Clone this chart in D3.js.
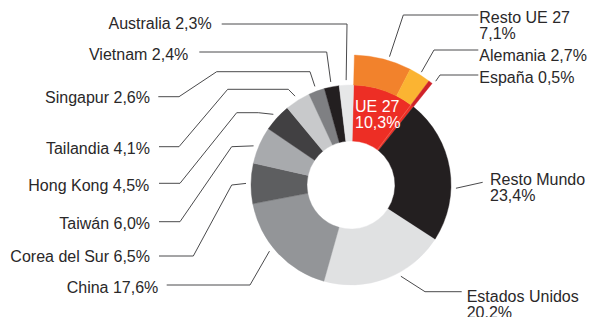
<!DOCTYPE html>
<html>
<head>
<meta charset="utf-8">
<script src="https://cdn.jsdelivr.net/npm/d3@7/dist/d3.min.js"></script>
<style>
  html, body { margin: 0; padding: 0; background: #fff; }
  svg { display: block; }
  text { font-family: "Liberation Sans", Arial, Helvetica, sans-serif; font-size: 16px; }
</style>
</head>
<body>
<svg id="chart" width="589" height="317"></svg>
<script>
// ---- Data ----
const categories = ["UE 27", "Resto Mundo", "Estados Unidos", "China", "Corea del Sur", "Taiwán",
                    "Hong Kong", "Tailandia", "Singapur", "Vietnam", "Australia"];
const values = [10.3, 23.4, 20.2, 17.6, 6.5, 6.0, 4.5, 4.1, 2.6, 2.4, 2.3];
const euCategories = ["Resto UE 27", "Alemania", "España"];
const euValues = [7.1, 2.7, 0.5];

// ---- Styles ----
const palette = ["#ed2e25", "#231f20", "#e0e1e2", "#939598", "#5d5e60", "#a8aaad",
                 "#414042", "#c8c9cb", "#7f8083", "#231f20", "#e6e7e8"];
const euPalette = ["#f2822c", "#fbb432", "#cf2229"];

// ---- Label layout (annotation positions) ----
const layout = {
  "Australia":      { r: 105, dA: 0,    pts: [[347,24],[221.7,24]], tx: 211.7, ty: 29.3, anchor: "end" },
  "Vietnam":        { r: 105, dA: 0,    pts: [[326.7,52],[199.3,52]], tx: 188.3, ty: 60, anchor: "end" },
  "Singapur":       { r: 105, dA: 0,    pts: [[310,71.7],[216.7,71.7],[179,96.7],[158.3,96.7]], tx: 150, ty: 102.7, anchor: "end" },
  "Tailandia":      { r: 105, dA: 0,    pts: [[288.3,89.3],[227.7,89.3],[179,146.7],[159,146.7]], tx: 150, ty: 154, anchor: "end" },
  "Hong Kong":      { r: 105, dA: 0,    pts: [[258.3,112.7],[236.7,112.7],[180,183.3],[159,183.3]], tx: 149.3, ty: 190.7, anchor: "end" },
  "Taiwán":         { r: 105, dA: -1.5, pts: [[231.7,146.7],[180,221.7],[159,221.7]], tx: 150, ty: 229.3, anchor: "end" },
  "Corea del Sur":  { r: 105, dA: 0,    pts: [[231.7,185],[193.3,256],[159,256]], tx: 150, ty: 261.7, anchor: "end" },
  "China":          { r: 105, dA: 3.5,  pts: [[250,285],[166.7,285]], tx: 158.3, ty: 292.7, anchor: "end" },
  "Resto Mundo":    { r: 105, dA: 11,   pts: [[482.7,182.3]], tx: 490, ty: 185, anchor: "start", wrap: true },
  "Estados Unidos": { r: 104, dA: -8,   pts: [[425,291.7],[461.7,291.7]], tx: 466.7, ty: 301.7, anchor: "start", wrap: true },
  "Resto UE 27":    { r: 134, dA: 2.4,  pts: [[403.3,15],[478.3,15]], tx: 479.3, ty: 23.3, anchor: "start", wrap: true },
  "Alemania":       { r: 133, dA: 0,    pts: [[434,50],[478.3,50]], tx: 479.3, ty: 60.7, anchor: "start" },
  "España":         { r: 134, dA: 1.5,  pts: [[440,75],[478.3,75]], tx: 479.3, ty: 83.3, anchor: "start" }
};

const fmt = v => v.toFixed(1).replace(".", ",") + "%";

const svg = d3.select("#chart");
const cx = 351, cy = 185, r0 = 44, r1 = 100, r2 = 130;
const offset = 1.5 * Math.PI / 180;

const g = svg.append("g").attr("transform", `translate(${cx},${cy})`);

const pie = d3.pie().sort(null).value(d => d.v)
  .startAngle(offset).endAngle(offset + 2 * Math.PI);
const arcs = pie(categories.map((c, i) => ({ c, v: values[i], color: palette[i] })));

const ueArc = arcs[0];
const euPie = d3.pie().sort(null).value(d => d.v)
  .startAngle(ueArc.startAngle).endAngle(ueArc.endAngle);
const euArcs = euPie(euCategories.map((c, i) => ({ c, v: euValues[i], color: euPalette[i] })));

const innerArc = d3.arc().innerRadius(r0).outerRadius(r1);
const outerArc = d3.arc().innerRadius(r1).outerRadius(r2);

g.selectAll("path.main").data(arcs).enter().append("path")
  .attr("class", "main")
  .attr("d", innerArc)
  .attr("fill", d => d.data.color)
  .attr("stroke", d => d.data.color)
  .attr("stroke-width", 0.4);

g.selectAll("path.eu").data(euArcs).enter().append("path")
  .attr("class", "eu")
  .attr("d", outerArc)
  .attr("fill", d => d.data.color)
  .attr("stroke", d => d.data.color)
  .attr("stroke-width", 0.4);

// faint seam inside the UE slice where España begins
const seamA = euArcs[2].startAngle;
g.append("line")
  .attr("x1", r0 * Math.sin(seamA)).attr("y1", -r0 * Math.cos(seamA))
  .attr("x2", r1 * Math.sin(seamA)).attr("y2", -r1 * Math.cos(seamA))
  .attr("stroke", "#f36a5c").attr("stroke-width", 0.8);

// ---- leaders & labels ----
const polar = (a, r) => [cx + r * Math.sin(a), cy - r * Math.cos(a)];
const allArcs = arcs.slice(1).map((d, i) => ({ d, name: d.data.c, value: d.data.v }))
  .concat(euArcs.map(d => ({ d, name: d.data.c, value: d.data.v })));

const lineGen = d3.line();
allArcs.forEach(item => {
  const L = layout[item.name];
  if (!L) return;
  const mid = (item.d.startAngle + item.d.endAngle) / 2 + L.dA * Math.PI / 180;
  const start = polar(mid, L.r);
  svg.append("path")
    .attr("d", lineGen([start].concat(L.pts)))
    .attr("fill", "none")
    .attr("stroke", "#4a4a4c")
    .attr("stroke-width", 1);

  const t = svg.append("text")
    .attr("x", L.tx).attr("y", L.ty)
    .attr("text-anchor", L.anchor)
    .attr("fill", "#2a2829");
  if (L.wrap) {
    t.append("tspan").attr("x", L.tx).attr("y", L.ty).text(item.name);
    t.append("tspan").attr("x", L.tx).attr("y", L.ty + 16).text(fmt(item.value));
  } else {
    t.text(item.name + " " + fmt(item.value));
  }
});

// UE 27 label inside
const ueText = svg.append("text").attr("fill", "#fff").attr("text-anchor", "start");
ueText.append("tspan").attr("x", 355).attr("y", 111.7).text(categories[0]);
ueText.append("tspan").attr("x", 355).attr("y", 128.3).text(fmt(values[0]));
</script>
</body>
</html>
